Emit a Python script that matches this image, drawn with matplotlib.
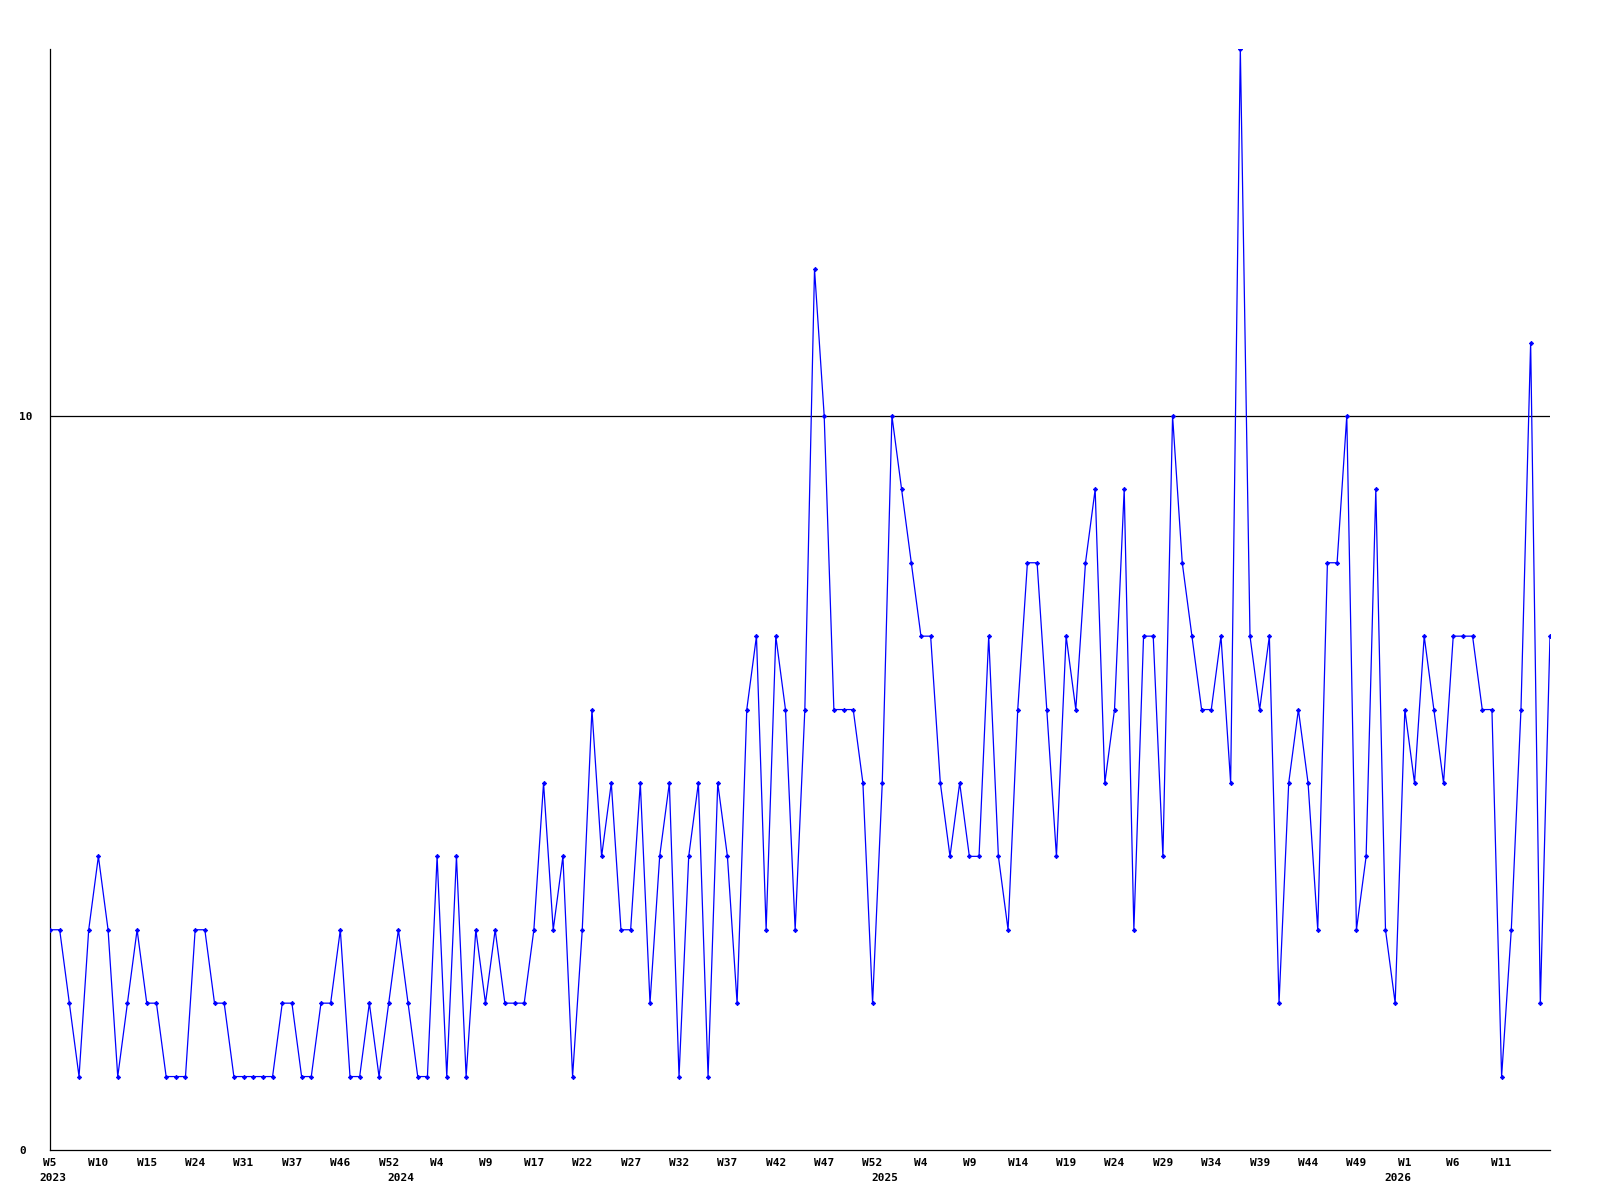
import matplotlib
matplotlib.use("Agg")
import matplotlib.pyplot as plt
import numpy as np

# weekly counts, one per plotted week (weeks with no data are skipped)
counts = [
    3, 3, 2, 1, 3, 4, 3, 1, 2, 3,
    2, 2, 1, 1, 1, 3, 3, 2, 2, 1,
    1, 1, 1, 1, 2, 2, 1, 1, 2, 2,
    3, 1, 1, 2, 1, 2, 3, 2, 1, 1,
    4, 1, 4, 1, 3, 2, 3, 2, 2, 2,
    3, 5, 3, 4, 1, 3, 6, 4, 5, 3,
    3, 5, 2, 4, 5, 1, 4, 5, 1, 5,
    4, 2, 6, 7, 3, 7, 6, 3, 6, 12,
    10, 6, 6, 6, 5, 2, 5, 10, 9, 8,
    7, 7, 5, 4, 5, 4, 4, 7, 4, 3,
    6, 8, 8, 6, 4, 7, 6, 8, 9, 5,
    6, 9, 3, 7, 7, 4, 10, 8, 7, 6,
    6, 7, 5, 15, 7, 6, 7, 2, 5, 6,
    5, 3, 8, 8, 10, 3, 4, 9, 3, 2,
    6, 5, 7, 6, 5, 7, 7, 7, 6, 6,
    1, 3, 6, 11, 2, 7,
]

# every 5th point gets a week label
week_labels = [
    "W5", "W10", "W15", "W24", "W31", "W37", "W46", "W52", "W4", "W9",
    "W17", "W22", "W27", "W32", "W37", "W42", "W47", "W52", "W4", "W9",
    "W14", "W19", "W24", "W29", "W34", "W39", "W44", "W49", "W1", "W6",
    "W11",
]
years = ["2023", "2024", "2025", "2026"]
year_first_idx = [0, 37, 87, 140]

x = np.arange(len(counts))

fig = plt.figure(figsize=(16, 12), dpi=100)
ax = fig.add_axes([0.03125, 0.0417, 0.9375, 0.9175])

ax.plot(x, counts, color="#0000ff", lw=0.9, marker="D", markersize=2.2,
        markeredgewidth=0.6, zorder=3)
ax.axhline(10, color="black", lw=0.9, zorder=2)

ax.set_xlim(0, len(counts) - 1)
ax.set_ylim(0, 15)

for side in ("top", "right"):
    ax.spines[side].set_visible(False)
for side in ("left", "bottom"):
    ax.spines[side].set_linewidth(0.9)
    ax.spines[side].set_color("black")

mono = dict(family="DejaVu Sans Mono", weight="bold", size=8)

ax.set_yticks([0, 10])
ax.set_yticklabels(["0", "10"], ha="left", **mono)
ax.tick_params(axis="y", length=0, pad=22)

ax.set_xticks(x[::5][:len(week_labels)])
ax.set_xticklabels(week_labels, **mono)
ax.tick_params(axis="x", length=0, pad=6)

# year labels under the week labels, near the first week of each year
for yr, idx in zip(years, year_first_idx):
    ax.text(max(idx - 0.7, 0.3), -0.31, yr, ha="center", va="top",
            clip_on=False, **mono)

fig.savefig("out.png", dpi=100)
